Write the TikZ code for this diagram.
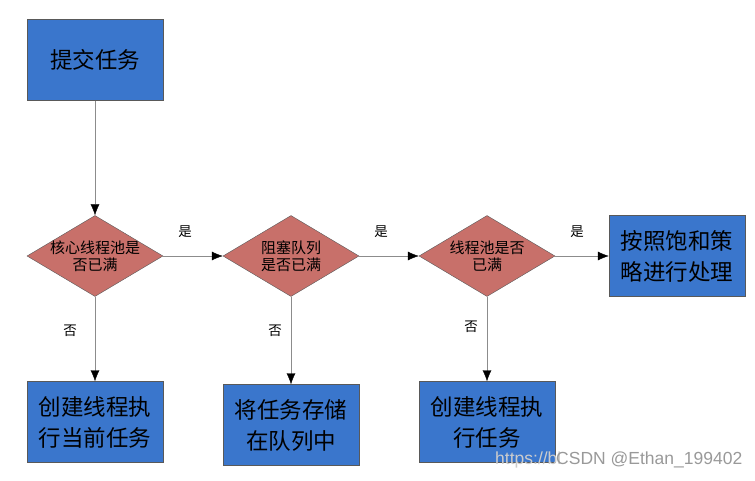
\documentclass[tikz,border=0pt]{standalone}
\usepackage{fontspec}
\setmainfont{Noto Sans CJK SC}
\newfontfamily\wmfont{Liberation Sans}
\usetikzlibrary{arrows.meta, positioning, shapes.geometric}
\definecolor{boxblue}{RGB}{58,118,204}
\definecolor{decred}{RGB}{200,112,106}

\begin{document}
\begin{tikzpicture}[x=1pt, y=-1pt,
    taskbox/.style={rectangle, draw=black!65, fill=boxblue, minimum width=136pt, minimum height=81pt,
      inner sep=0pt, align=center, font=\fontsize{22.5}{31}\selectfont},
    decision/.style={diamond, draw=black!65, fill=decred, minimum width=136pt, minimum height=81pt,
      aspect=1.68, inner sep=-6pt, align=center, font=\fontsize{15}{17}\selectfont},
    flow/.style={draw=black!45, -{Latex[black, length=11pt, width=9pt]}},
    yesno/.style={font=\fontsize{13.5}{13.5}\selectfont}]
      \useasboundingbox (0,0) rectangle (755,481);

      \node[taskbox] (submit) at (95,60) {提交任务};
      \node[decision] (core) at (95,256) {核心线程池是\\否已满};
      \node[decision] (queue) at (291,256) {阻塞队列\\是否已满};
      \node[decision] (pool) at (487,256) {线程池是否\\已满};
      \node[taskbox] (reject) at (677,256) {按照饱和策\\略进行处理};
      \node[taskbox] (runnow) at (95,422) {创建线程执\\行当前任务};
      \node[taskbox] (enqueue) at (291,425) {将任务存储\\在队列中};
      \node[taskbox] (newthread) at (487,422) {创建线程执\\行任务};

      \draw[flow] (submit) -- (core);
      \draw[flow] (core) -- (queue);
      \draw[flow] (queue) -- (pool);
      \draw[flow] (pool) -- (reject);
      \draw[flow] (core) -- (runnow);
      \draw[flow] (queue) -- (enqueue);
      \draw[flow] (pool) -- (newthread);

      \node[yesno] (yes1) at (185,232) {是};
      \node[yesno] (yes2) at (381,232) {是};
      \node[yesno] (yes3) at (577,232) {是};
      \node[yesno] (no1) at (70,331) {否};
      \node[yesno] (no2) at (275,331) {否};
      \node[yesno] (no3) at (471,327) {否};

      % watermark
      \node[anchor=west, inner sep=0pt, text=black!20, font=\wmfont\fontsize{17.5}{17.5}\selectfont] (wmurl) at (495,460) {https://bl};
      \node[anchor=west, inner sep=0pt, text=black!40, font=\wmfont\fontsize{17.5}{17.5}\selectfont] (wmname) at (556,460) {CSDN @Ethan\_199402};
    \end{tikzpicture}
\end{document}
